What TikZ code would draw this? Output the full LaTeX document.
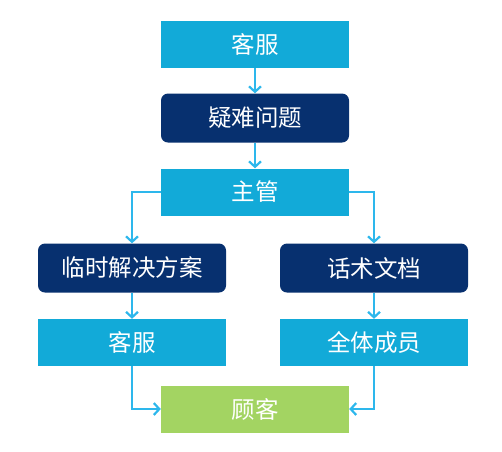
\documentclass[tikz,border=0pt]{standalone}
\usepackage{fontspec}
\newfontfamily\cjk{Noto Sans CJK SC}
\usepackage{tikz}
\usetikzlibrary{shapes,arrows.meta}
\definecolor{lightbox}{HTML}{12AAD8}
\definecolor{darkbox}{HTML}{07306F}
\definecolor{greenbox}{HTML}{A3D462}
\definecolor{linecol}{HTML}{2DB7EC}

\begin{document}
\begin{tikzpicture}[x=1pt, y=1pt, node distance = 74pt, auto]
        \tikzstyle{block} = [rectangle, fill=lightbox, text=white, minimum width=188pt, minimum height=47pt, inner sep=0pt, font=\cjk\fontsize{23.5}{27}\selectfont]
        \tikzstyle{darkblock} = [block, fill=darkbox, rounded corners=7pt, minimum height=49pt]
        \tikzstyle{endblock} = [block, fill=greenbox]
        \tikzstyle{line} = [draw, linecol, line width=1.3pt, -{Straight Barb[length=5.5pt, width=12pt, line width=2.2pt]}]

    \useasboundingbox (0,0) rectangle (502,-451);

    \node [block] (kefu top) at (255,-44.5) {客服};
    \node [darkblock, below of=kefu top, node distance=73.5pt] (problem) {疑难问题};
    \node [block, below of=problem] (manager) {主管};
    \node [darkblock, below of=manager, node distance=76pt, xshift=-123pt] (temp fix) {临时解决方案};
    \node [darkblock, below of=manager, node distance=76pt, xshift=119pt] (script doc) {话术文档};
    \node [block, below of=temp fix, node distance=74.5pt] (kefu bottom) {客服};
    \node [block, below of=script doc, node distance=74.5pt] (all members) {全体成员};
    \node [endblock, at={(255,-409)}] (customer) {顾客};

    \path [line] (kefu top) -- (problem);
    \path [line] (problem) -- (manager);
    \path [line] (manager.west) -| (temp fix.north);
    \path [line] (manager.east) -| (script doc.north);
    \path [line] (temp fix) -- (kefu bottom);
    \path [line] (script doc) -- (all members);
    \path [line] (kefu bottom.south) |- (customer.west);
    \path [line] (all members.south) |- (customer.east);
    \end{tikzpicture}
\end{document}
